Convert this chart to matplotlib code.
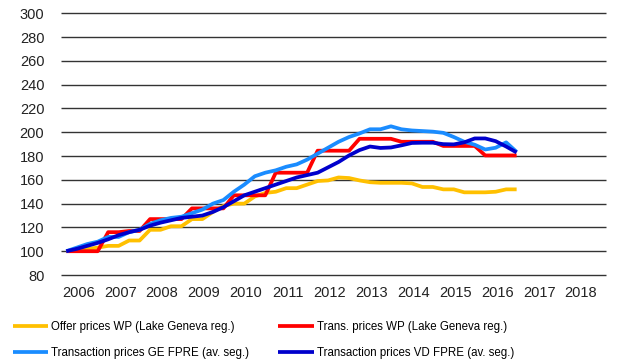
import numpy as np
import matplotlib
matplotlib.use("Agg")
import matplotlib.pyplot as plt

plt.rcParams["font.family"] = ["Liberation Sans", "DejaVu Sans"]

# quarterly index values, 2006 Q1 = 100 (2006 Q1 .. 2016 Q4)
offer_wp = [100, 101, 102, 103, 104.5, 104.5, 109, 109, 118, 118, 121, 121,
            127, 127, 133, 138, 140, 140, 146, 149, 150, 153, 153, 156,
            159, 159.5, 162, 161.5, 159.5, 158, 157.5, 157.5, 157.5, 157, 154, 154,
            152, 152, 149.5, 149.5, 149.5, 150, 152, 152]
trans_wp = [100, 100, 100, 100, 116, 116, 117, 117, 127, 127, 127, 127,
            136, 136, 136, 136, 147, 147, 147, 147, 166, 166, 166, 166,
            184.5, 184.5, 184.5, 184.5, 194.5, 194.5, 194.5, 194.5, 192, 192, 192, 192,
            188.5, 188.5, 188.5, 188.5, 180.5, 180.5, 180.5, 180.5]
ge_fpre = [100, 103, 106, 108, 112, 112, 116, 118, 123, 126, 128, 129,
           132, 135, 140, 143, 150, 156, 163, 166, 168, 171, 173, 177,
           182, 187, 192, 196, 199, 202.5, 202.5, 205, 202.5, 201.5, 201, 200.5,
           199.5, 196, 192, 189.5, 185.5, 187, 191.5, 183.5]
vd_fpre = [100, 102, 104.5, 107, 110, 113.5, 116, 118, 121.5, 124, 126, 128,
           129, 130, 133, 137, 142, 147, 150, 153, 156, 159, 162, 164,
           166, 170.5, 175, 180.5, 185, 188, 186.8, 187.2, 189, 191, 191.2, 191.2,
           190, 189.8, 191.5, 194.8, 194.8, 192.5, 188, 183]

years = list(range(2006, 2019))
y_ticks = list(range(80, 301, 20))

series = [
    ("Offer prices WP (Lake Geneva reg.)", offer_wp, "#FFC000"),
    ("Trans. prices WP (Lake Geneva reg.)", trans_wp, "#FF0000"),
    ("Transaction prices GE FPRE (av. seg.)", ge_fpre, "#1A8CFF"),
    ("Transaction prices VD FPRE (av. seg.)", vd_fpre, "#0000CC"),
]

fig = plt.figure(figsize=(6.37, 3.63), dpi=100)
ax = fig.add_axes([0.0958, 0.2424, 0.855, 0.721])

# horizontal grid, drawn unclipped so the 80 and 300 lines show in full
ax.hlines(y_ticks, -0.5, 51.5, colors="#333333", linewidth=1.0, zorder=0, clip_on=False)

lines = {}
for label, values, color in series:
    x = np.arange(len(values))
    (ln,) = ax.plot(x, values, color=color, linewidth=2.7, label=label,
                    solid_joinstyle="round", solid_capstyle="butt")
    lines[label] = ln

ax.set_xlim(-0.5, 51.5)
ax.set_ylim(80, 300)
ax.set_yticks(y_ticks)
ax.set_xticks([4 * k + 1.15 for k in range(len(years))])
ax.set_xticklabels([str(y) for y in years])
ax.tick_params(axis="both", length=0, labelsize=10.5, colors="#222222")
ax.tick_params(axis="y", pad=12)
ax.tick_params(axis="x", pad=8)
for sp in ax.spines.values():
    sp.set_visible(False)

# two-row legend: yellow/red on top, light/dark blue below
order = [series[0][0], series[2][0], series[1][0], series[3][0]]
fig.legend([lines[k] for k in order], order, ncol=2, loc="upper left",
           bbox_to_anchor=(0.02, 0.116), frameon=False, fontsize=8.3,
           handlelength=3.1, handletextpad=0.25, columnspacing=2.5,
           labelspacing=1.25, borderaxespad=0, borderpad=0)

fig.savefig("out.png", dpi=100)
